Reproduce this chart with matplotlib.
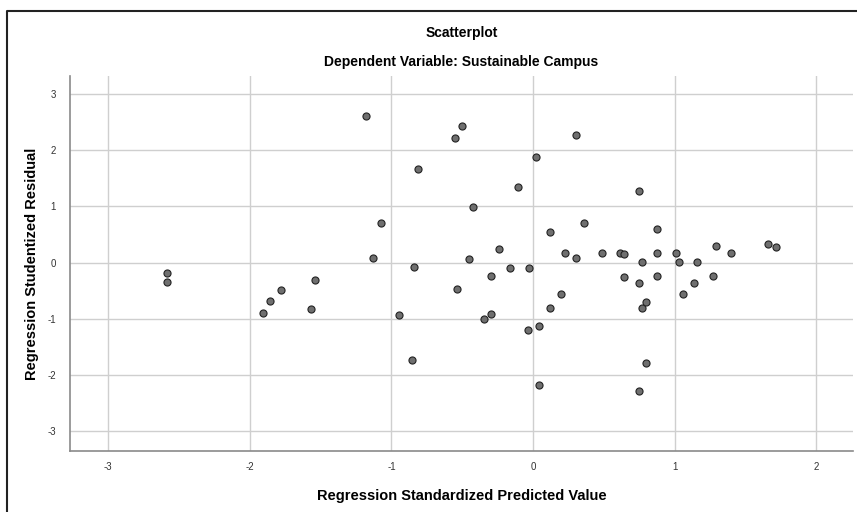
import matplotlib
matplotlib.use("Agg")
import matplotlib.pyplot as plt
from matplotlib.lines import Line2D

predicted = [-2.584, -2.584, -1.908, -1.854, -1.779, -1.541, -1.569, -1.18, -1.128, -1.074,
             -0.945, -0.853, -0.843, -0.815, -0.553, -0.50, -0.535, -0.452, -0.424, -0.348,
             -0.295, -0.295, -0.238, -0.163, -0.108, -0.030, -0.033, 0.021, 0.042, 0.042,
             0.120, 0.120, 0.198, 0.228, 0.304, 0.304, 0.358, 0.490, 0.615, 0.643,
             0.641, 0.747, 0.747, 0.747, 0.772, 0.772, 0.80, 0.80, 0.878, 0.878,
             0.878, 1.008, 1.03, 1.062, 1.138, 1.159, 1.27, 1.291, 1.399, 1.659, 1.713]
residual = [-0.19, -0.34, -0.90, -0.68, -0.48, -0.31, -0.83, 2.61, 0.08, 0.71,
            -0.93, -1.73, -0.08, 1.67, 2.21, 2.43, -0.46, 0.07, 0.99, -1.00,
            -0.92, -0.24, 0.25, -0.10, 1.34, -0.10, -1.19, 1.88, -1.13, -2.18,
            0.55, -0.81, -0.55, 0.17, 2.27, 0.09, 0.71, 0.18, 0.18, 0.15,
            -0.25, 1.27, -0.37, -2.28, 0.02, -0.81, -0.70, -1.79, 0.59, 0.18,
            -0.23, 0.18, 0.02, -0.56, -0.37, 0.02, -0.23, 0.30, 0.18, 0.33, 0.27]
x_ticks = [-3, -2, -1, 0, 1, 2]
y_ticks = [-3, -2, -1, 0, 1, 2, 3]

plt.rcParams['font.family'] = ['Liberation Sans', 'DejaVu Sans']

fig = plt.figure(figsize=(8.57, 5.12), dpi=100)
ax = fig.add_axes([70/857, 61/512, 783/857, 375/512])

ax.scatter(predicted, residual, s=26, facecolor='#6f6f6f', edgecolor='#222222',
           linewidths=0.8, zorder=3)

ax.set_xlim(-3.27, 2.26)
ax.set_ylim(-3.35, 3.32)
ax.set_xticks(x_ticks)
ax.set_yticks(y_ticks)
ax.set_xticklabels([str(v) for v in x_ticks])
ax.set_yticklabels([str(v) for v in y_ticks])
ax.tick_params(length=0, labelsize=7, colors='#333333')
ax.tick_params(axis='x', pad=8)
ax.tick_params(axis='y', pad=10)
ax.grid(True, color='#cfcfcf', linewidth=1.0, zorder=0)
ax.set_axisbelow(True)
for s in ['top', 'right']:
    ax.spines[s].set_visible(False)
for s in ['left', 'bottom']:
    ax.spines[s].set_color('#8a8a8a')
    ax.spines[s].set_linewidth(1.2)

ax.set_xlabel('Regression Standardized Predicted Value', fontsize=10.5,
              fontweight='bold', labelpad=12)
ax.set_ylabel('Regression Studentized Residual', fontsize=10.5,
              fontweight='bold', labelpad=6)

fig.text(461.5/857, 1 - 33/512, 'Scatterplot', ha='center', va='center',
         fontsize=10, fontweight='bold')
fig.text(461.5/857, 1 - 62/512, 'Dependent Variable: Sustainable Campus',
         ha='center', va='center', fontsize=10, fontweight='bold')

# outer frame (left and top edges only visible)
fig.add_artist(Line2D([6.5/857, 6.5/857, 1.0], [0.0, 1 - 10.5/512, 1 - 10.5/512],
                      transform=fig.transFigure, color='#222222', linewidth=1.5))

fig.savefig('out.png', dpi=100)
